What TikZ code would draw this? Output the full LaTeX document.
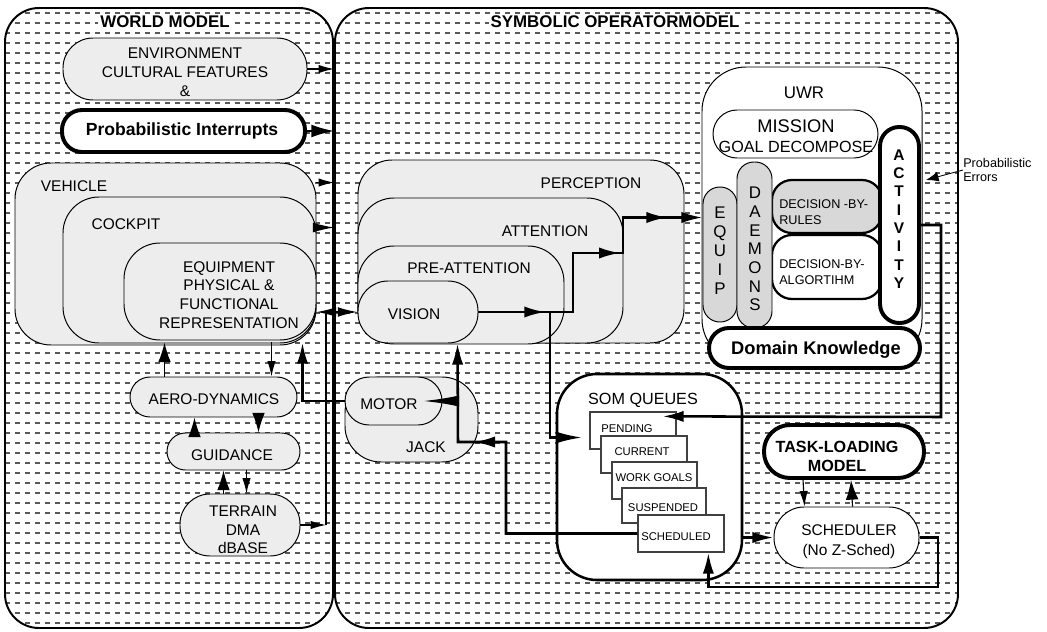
\documentclass[tikz,border=0pt]{standalone}
\usepackage{fontspec}
\setmainfont{Liberation Sans}
\usetikzlibrary{positioning,fit,calc,arrows.meta,backgrounds,decorations.markings}
\definecolor{shellgray}{HTML}{EDEDED}
\definecolor{bargray}{HTML}{D8D8D8}
\tikzstyle{zone} = [draw=black, line width=1.4pt, rounded corners=0.85cm, inner sep=0pt]
\tikzstyle{shell} = [draw=black, line width=0.7pt, fill=shellgray, inner sep=0pt]
\tikzstyle{clearbox} = [draw=black, line width=0.7pt, fill=white, inner sep=0pt]
\tikzstyle{heavybox} = [draw=black, line width=2.8pt, fill=white, inner sep=0pt]
\tikzstyle{qbox} = [draw=black!75, line width=0.9pt, fill=white, inner sep=0pt]
\tikzstyle{vbar} = [draw=black, line width=0.7pt, fill=bargray, inner sep=0pt, rounded corners=0.42cm]
\begin{document}
\begin{tikzpicture}[x=0.025cm, y=-0.025cm,
  txt/.style={inner sep=0pt, align=center, font=\fontsize{11}{13.3}\selectfont},
  boldtxt/.style={inner sep=0pt, align=center, font=\fontsize{12.5}{14}\selectfont\bfseries},
  qtxt/.style={inner sep=0pt, font=\fontsize{8}{9}\selectfont},
  bartxt/.style={inner sep=0pt, align=center, font=\fontsize{12}{13.3}\selectfont},
  smalltxt/.style={inner sep=0pt, align=left, font=\fontsize{9}{11.3}\selectfont},
  headline/.style={inner sep=1.5pt, fill=white, font=\fontsize{12}{14}\selectfont\bfseries},
  backdrop/.style={line width=1.1pt, draw=black!65, dash pattern=on 0.13cm off 0.12cm},
  wire/.style={line width=0.8pt, -{Latex[length=11pt,width=6pt]}},
  bigwire/.style={line width=1.8pt, -{Latex[length=15pt,width=8pt]}},
  bigtip/.style={-{Latex[length=14pt,width=9pt]}},
  midtip/.style={postaction={decorate, decoration={markings,
    mark=at position #1 with {\arrow{Latex[length=15pt,width=8pt]}}}}}]
  \useasboundingbox (0,0) rectangle (1047,632);
  % draw the two models
  \node[zone, fit={(5,8) (333,628)}] (world) {};
  \node[zone, fit={(335,8) (958,628)}] (som) {};
  % draw the dashed backdrop
  \begin{scope}[on background layer]
    \clip[rounded corners=0.85cm] (5,8) rectangle (333,628) (335,8) rectangle (958,628);
    \foreach \y in {13,23,...,623}
      \draw[backdrop] (5,\y) -- (958,\y);
  \end{scope}
  \node[headline] (wmtitle) at (165,22) {WORLD MODEL};
  \node[headline] (somtitle) at (615,22) {SYMBOLIC OPERATORMODEL};

  % draw world model boxes
  \node[shell, rounded corners=0.75cm, fit={(63,38) (307,100)}] (env) {};
  \node[txt, font=\fontsize{11}{13.5}\selectfont] (envlbl) at (185,72) {ENVIRONMENT\\CULTURAL FEATURES\\\&};
  \node[heavybox, rounded corners=0.5cm, fit={(62,110) (305,152)}] (prob) {};
  \node[boldtxt] (problbl) at (182,131) {Probabilistic Interrupts};
  \node[shell, rounded corners=0.9cm, fit={(15,163) (316,345)}] (vehicle) {};
  \node[txt] (vehiclelbl) at (74,186) {VEHICLE};
  \node[shell, rounded corners=0.9cm, fit={(63,197) (316,343)}] (cockpit) {};
  \node[txt] (cockpitlbl) at (126,224) {COCKPIT};
  \node[shell, rounded corners=0.9cm, fit={(124,243) (316,340)}] (equipment) {};
  \node[txt] (equipmentlbl) at (229,295) {EQUIPMENT\\PHYSICAL \&\\FUNCTIONAL\\REPRESENTATION};
  \node[shell, rounded corners=0.5cm, fit={(130,377) (297,417)}] (aero) {};
  \node[txt] (aerolbl) at (214,399) {AERO-DYNAMICS};
  \node[shell, rounded corners=0.46cm, fit={(167,433) (300,470)}] (guid) {};
  \node[txt] (guidlbl) at (232,455) {GUIDANCE};
  \node[shell, rounded corners=0.75cm, fit={(180,494) (300,556)}] (terrain) {};
  \node[txt, font=\fontsize{11}{13}\selectfont] (terrainlbl) at (243,530) {TERRAIN\\DMA\\dBASE};

  % draw perception layers
  \node[shell, rounded corners=0.85cm, fit={(358,160) (684,343)}] (perception) {};
  \node[txt] (perceptionlbl) at (591,183) {PERCEPTION};
  \node[shell, rounded corners=0.9cm, fit={(358,198) (623,343)}] (attention) {};
  \node[txt] (attentionlbl) at (545,231) {ATTENTION};
  \node[shell, rounded corners=0.9cm, fit={(358,246) (564,344)}] (preatt) {};
  \node[txt] (preattlbl) at (469,268) {PRE-ATTENTION};
  \node[shell, rounded corners=0.75cm, fit={(358,281) (478,343)}] (vision) {};
  \node[txt] (visionlbl) at (414,314) {VISION};
  \node[shell, rounded corners=0.9cm, fit={(345,377) (478,462)}] (jack) {};
  \node[txt] (jacklbl) at (426,447) {JACK};
  \node[shell, rounded corners=0.6cm, fit={(345,377) (442,425)}] (motor) {};
  \node[txt] (motorlbl) at (389,404) {MOTOR};

  % draw the UWR and its parts
  \node[clearbox, rounded corners=1.1cm, fit={(702,67) (922,363)}] (uwr) {};
  \node[txt, font=\fontsize{12}{14}\selectfont] (uwrlbl) at (804,93) {UWR};
  \node[clearbox, rounded corners=0.6cm, fit={(713,110) (878,158)}] (mission) {};
  \node[txt, font=\fontsize{11.5}{14.5}\selectfont] (missionlbl) at (796,136) {{\fontsize{13}{15}\selectfont MISSION}\\GOAL DECOMPOSE};
  \node[draw=black, line width=1.6pt, fill=bargray, rounded corners=0.5cm, inner sep=0pt, fit={(772,180) (882,233)}] (rules) {};
  \node[smalltxt, anchor=west] (ruleslbl) at (779,212) {DECISION -BY-\\RULES};
  \node[draw=black, line width=1.6pt, fill=white, rounded corners=0.5cm, inner sep=0pt, fit={(772,235) (882,299)}] (algo) {};
  \node[smalltxt, anchor=west] (algolbl) at (779,272) {DECISION-BY-\\ALGORTIHM};
  \node[vbar, fit={(703,187) (737,322)}] (equipbar) {};
  \node[bartxt, font=\fontsize{12}{13.5}\selectfont] (equipbarlbl) at (720,251) {E\\Q\\U\\I\\P};
  \node[vbar, fit={(737,162) (772,328)}] (daemons) {};
  \node[bartxt] (daemonslbl) at (755,249) {D\\A\\E\\M\\O\\N\\S};
  \node[heavybox, rounded corners=0.48cm, fit={(880,127) (919,323)}] (activity) {};
  \node[boldtxt, font=\fontsize{11}{13}\selectfont\bfseries] (activitylbl) at (899,219) {A\\C\\T\\I\\V\\I\\T\\Y};
  \node[heavybox, rounded corners=0.5cm, fit={(709,328) (920,368)}] (domain) {};
  \node[boldtxt, font=\fontsize{13}{15}\selectfont\bfseries] (domainlbl) at (816,350) {Domain Knowledge};
  \node[smalltxt, anchor=west, font=\fontsize{9}{10.6}\selectfont] (perr) at (963,170) {Probabilistic\\Errors};

  % draw the queues and the scheduler
  \node[draw=black, line width=1.8pt, fill=white, rounded corners=1cm, inner sep=0pt, fit={(557,374) (742,580)}] (queues) {};
  \node[txt, font=\fontsize{11.5}{14}\selectfont] (queueslbl) at (643,400) {SOM QUEUES};
  \node[qbox, fit={(590,412) (676,449)}] (pending) {};
  \node[qtxt] (pendinglbl) at (627,429) {PENDING};
  \node[qbox, fit={(601,436) (687,473)}] (current) {};
  \node[qtxt] (currentlbl) at (642,452) {CURRENT};
  \node[qbox, fit={(612,462) (697,499)}] (workgoals) {};
  \node[qtxt] (workgoalslbl) at (654,478) {WORK GOALS};
  \node[qbox, fit={(622,488) (706,523)}] (suspended) {};
  \node[qtxt] (suspendedlbl) at (663,508) {SUSPENDED};
  \node[qbox, fit={(638,515) (724,552)}] (scheduled) {};
  \node[qtxt] (scheduledlbl) at (676,537) {SCHEDULED};
  \node[heavybox, rounded corners=0.65cm, fit={(764,425) (924,478)}] (tlm) {};
  \node[boldtxt, font=\fontsize{11.5}{13.5}\selectfont\bfseries] (tlmlbl) at (837,456) {TASK-LOADING\\MODEL};
  \node[clearbox, rounded corners=0.75cm, fit={(774,507) (919,568)}] (scheduler) {};
  \node[txt, font=\fontsize{11}{14}\selectfont] (schedulerlbl) at (849,542) {SCHEDULER\\(No Z-Sched)};

  % draw links leaving the world model
  \draw[wire] (env.east) -- (env.east -| world.east);
  \draw[wire, line width=1pt, -{Latex[length=16pt,width=9pt]}] (prob.east) -- (prob.east -| world.east);
  \draw[wire] ($(vehicle.north east)+(0,20)$) -- ($(vehicle.north east -| world.east)+(0,20)$);
  \draw[wire, -{Latex[length=15pt,width=7pt]}] ($(cockpit.north east)+(0,31)$) -- ($(cockpit.north east -| world.east)+(0,31)$);
  \draw[wire, line width=1.2pt, {Latex[length=14pt,width=7pt]}-{Latex[length=14pt,width=7pt]}] (vision.west -| equipment.east) -- (vision.west);
  \coordinate (tbus) at (326,525);
  \draw[wire] (terrain.east) -- (tbus);
  \draw[line width=0.8pt] (tbus) -- (tbus |- vision.west);

  % draw links inside the world model
  \draw[wire, bigtip] ($(aero.north west)+(35,0)$) -- ($(equipment.south west)+(41,2)$);
  \draw[wire] ($(equipment.south west)+(148,2)$) -- ($(aero.north west)+(142,0)$);
  \draw[wire, bigtip] ($(guid.north west)+(28,0)$) -- ($(aero.south west)+(65,0)$);
  \draw[wire, bigtip] ($(aero.south west)+(129,0)$) -- ($(guid.north west)+(92,0)$);
  \draw[wire, bigtip] ($(terrain.north west)+(44,0)$) -- ($(guid.south west)+(57,0)$);
  \draw[wire] ($(guid.south west)+(80,0)$) -- ($(terrain.north west)+(67,0)$);
  \draw[bigwire] (motor.west) -| ($(equipment.south east)+(-14,2)$);

  % draw perception chain into the UWR
  \coordinate (vbend) at (573,312);
  \coordinate (abend) at (623,253);
  \draw[bigwire, midtip=0.21, midtip=0.63, midtip=0.89] (vision.east) -- (vbend) |- (abend) |- ($(equipbar.north west)+(0,31)$);
  \coordinate (qdrop) at (550,312);
  \draw[bigwire, -{Latex[length=18pt,width=8pt]}] (qdrop) |- ($(pending.west)+(-7,7)$);
  \coordinate (abus) at (941,417);
  \draw[bigwire] (activity.east) -| (abus) -- ($(pending.north east)+(-14,5)$);
  \draw[line width=0.6pt, -{Latex[length=9pt,width=7pt]}] (perr.west) -- ($(activity.east)+(5,-45)$);

  % draw scheduler links
  \draw[wire] ($(tlm.south west)+(41,0)$) -- ($(scheduler.north west)+(31,0)$);
  \draw[wire, bigtip] ($(scheduler.north west)+(79,0)$) -- ($(tlm.south west)+(89,0)$);
  \draw[bigwire] (queues.east |- scheduler.west) -- (scheduler.west);
  \coordinate (sbus) at (938,587);
  \draw[bigwire] (scheduler.east) -| (sbus) -| ($(scheduled.south west)+(71,0)$);

  % draw motor links
  \coordinate (jbus) at (506,442);
  \coordinate (vbus) at (458,442);
  \draw[bigwire, midtip=0.69] (scheduled.west) -| (jbus) -- (vbus) -- ($(vision.south west)+(100,0)$);
  \coordinate (mbus) at (458,401);
  \draw[bigwire, -{Latex[length=26pt,width=8pt]}] (mbus) -- ($(motor.east)+(-20,0)$);
\end{tikzpicture}
\end{document}
